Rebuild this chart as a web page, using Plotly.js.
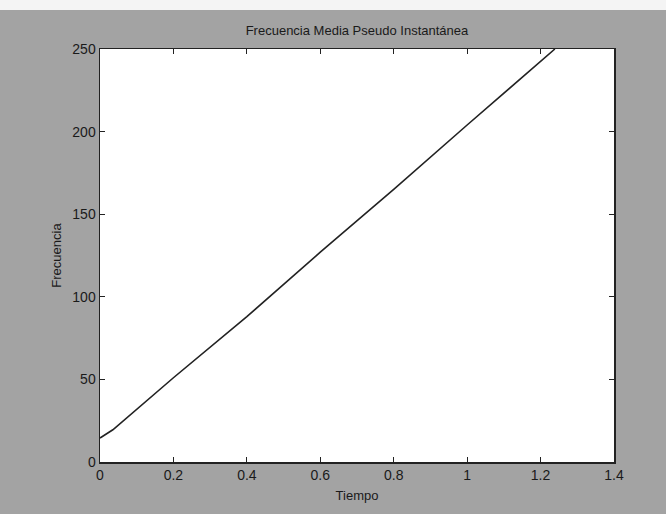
<!DOCTYPE html>
<html>
<head>
<meta charset="utf-8">
<script src="https://cdn.plot.ly/plotly-3.0.1.min.js"></script>
<style>
html,body{margin:0;padding:0;background:#f4f4f4;width:666px;height:514px;overflow:hidden;}
#chart{position:absolute;left:0;top:10px;width:666px;height:504px;}
</style>
</head>
<body>
<div id="chart"></div>
<script>
const tiempo = [0, 0.035, 0.2, 0.4, 0.6, 0.8, 1.0, 1.239];
const frecuencia = [14.5, 19.5, 51, 88, 127, 165, 204, 250];
const xTicks = [0, 0.2, 0.4, 0.6, 0.8, 1, 1.2, 1.4];
const yTicks = [0, 50, 100, 150, 200, 250];

const trace = {
  x: tiempo, y: frecuencia, type: 'scatter', mode: 'lines',
  line: {color: '#222222', width: 1.6}, hoverinfo: 'skip', showlegend: false
};
const fam = 'Liberation Sans, Arial, sans-serif';
const tickFont = {family: fam, size: 14, color: '#1a1a1a'};
const labFont = {family: fam, size: 13, color: '#1a1a1a'};
const layout = {
  width: 666, height: 504,
  margin: {l: 100, r: 52, t: 39, b: 52, pad: 0},
  paper_bgcolor: '#a3a3a3', plot_bgcolor: '#ffffff',
  font: tickFont,
  title: {text: 'Frecuencia Media Pseudo Instantánea', x: 0.536, xanchor: 'center', y: 0.96, yanchor: 'middle', font: labFont},
  xaxis: {
    range: [0, 1.4], tickvals: xTicks, ticktext: xTicks.map(String), tickfont: tickFont,
    ticks: 'inside', ticklen: 5, tickcolor: '#222', showline: true, linecolor: '#222', linewidth: 1.5,
    mirror: 'ticks', showgrid: false, zeroline: false, fixedrange: true,
    title: {text: 'Tiempo', font: labFont, standoff: 8}
  },
  yaxis: {
    range: [0, 250], tickvals: yTicks, ticktext: yTicks.map(String), tickfont: tickFont,
    ticks: 'inside', ticklen: 5, tickcolor: '#222', showline: true, linecolor: '#222', linewidth: 1.5,
    mirror: 'ticks', showgrid: false, zeroline: false, fixedrange: true,
    title: {text: 'Frecuencia', font: labFont, standoff: 8}
  }
};
Plotly.newPlot('chart', [trace], layout, {displayModeBar: false, staticPlot: true});
</script>
</body>
</html>
